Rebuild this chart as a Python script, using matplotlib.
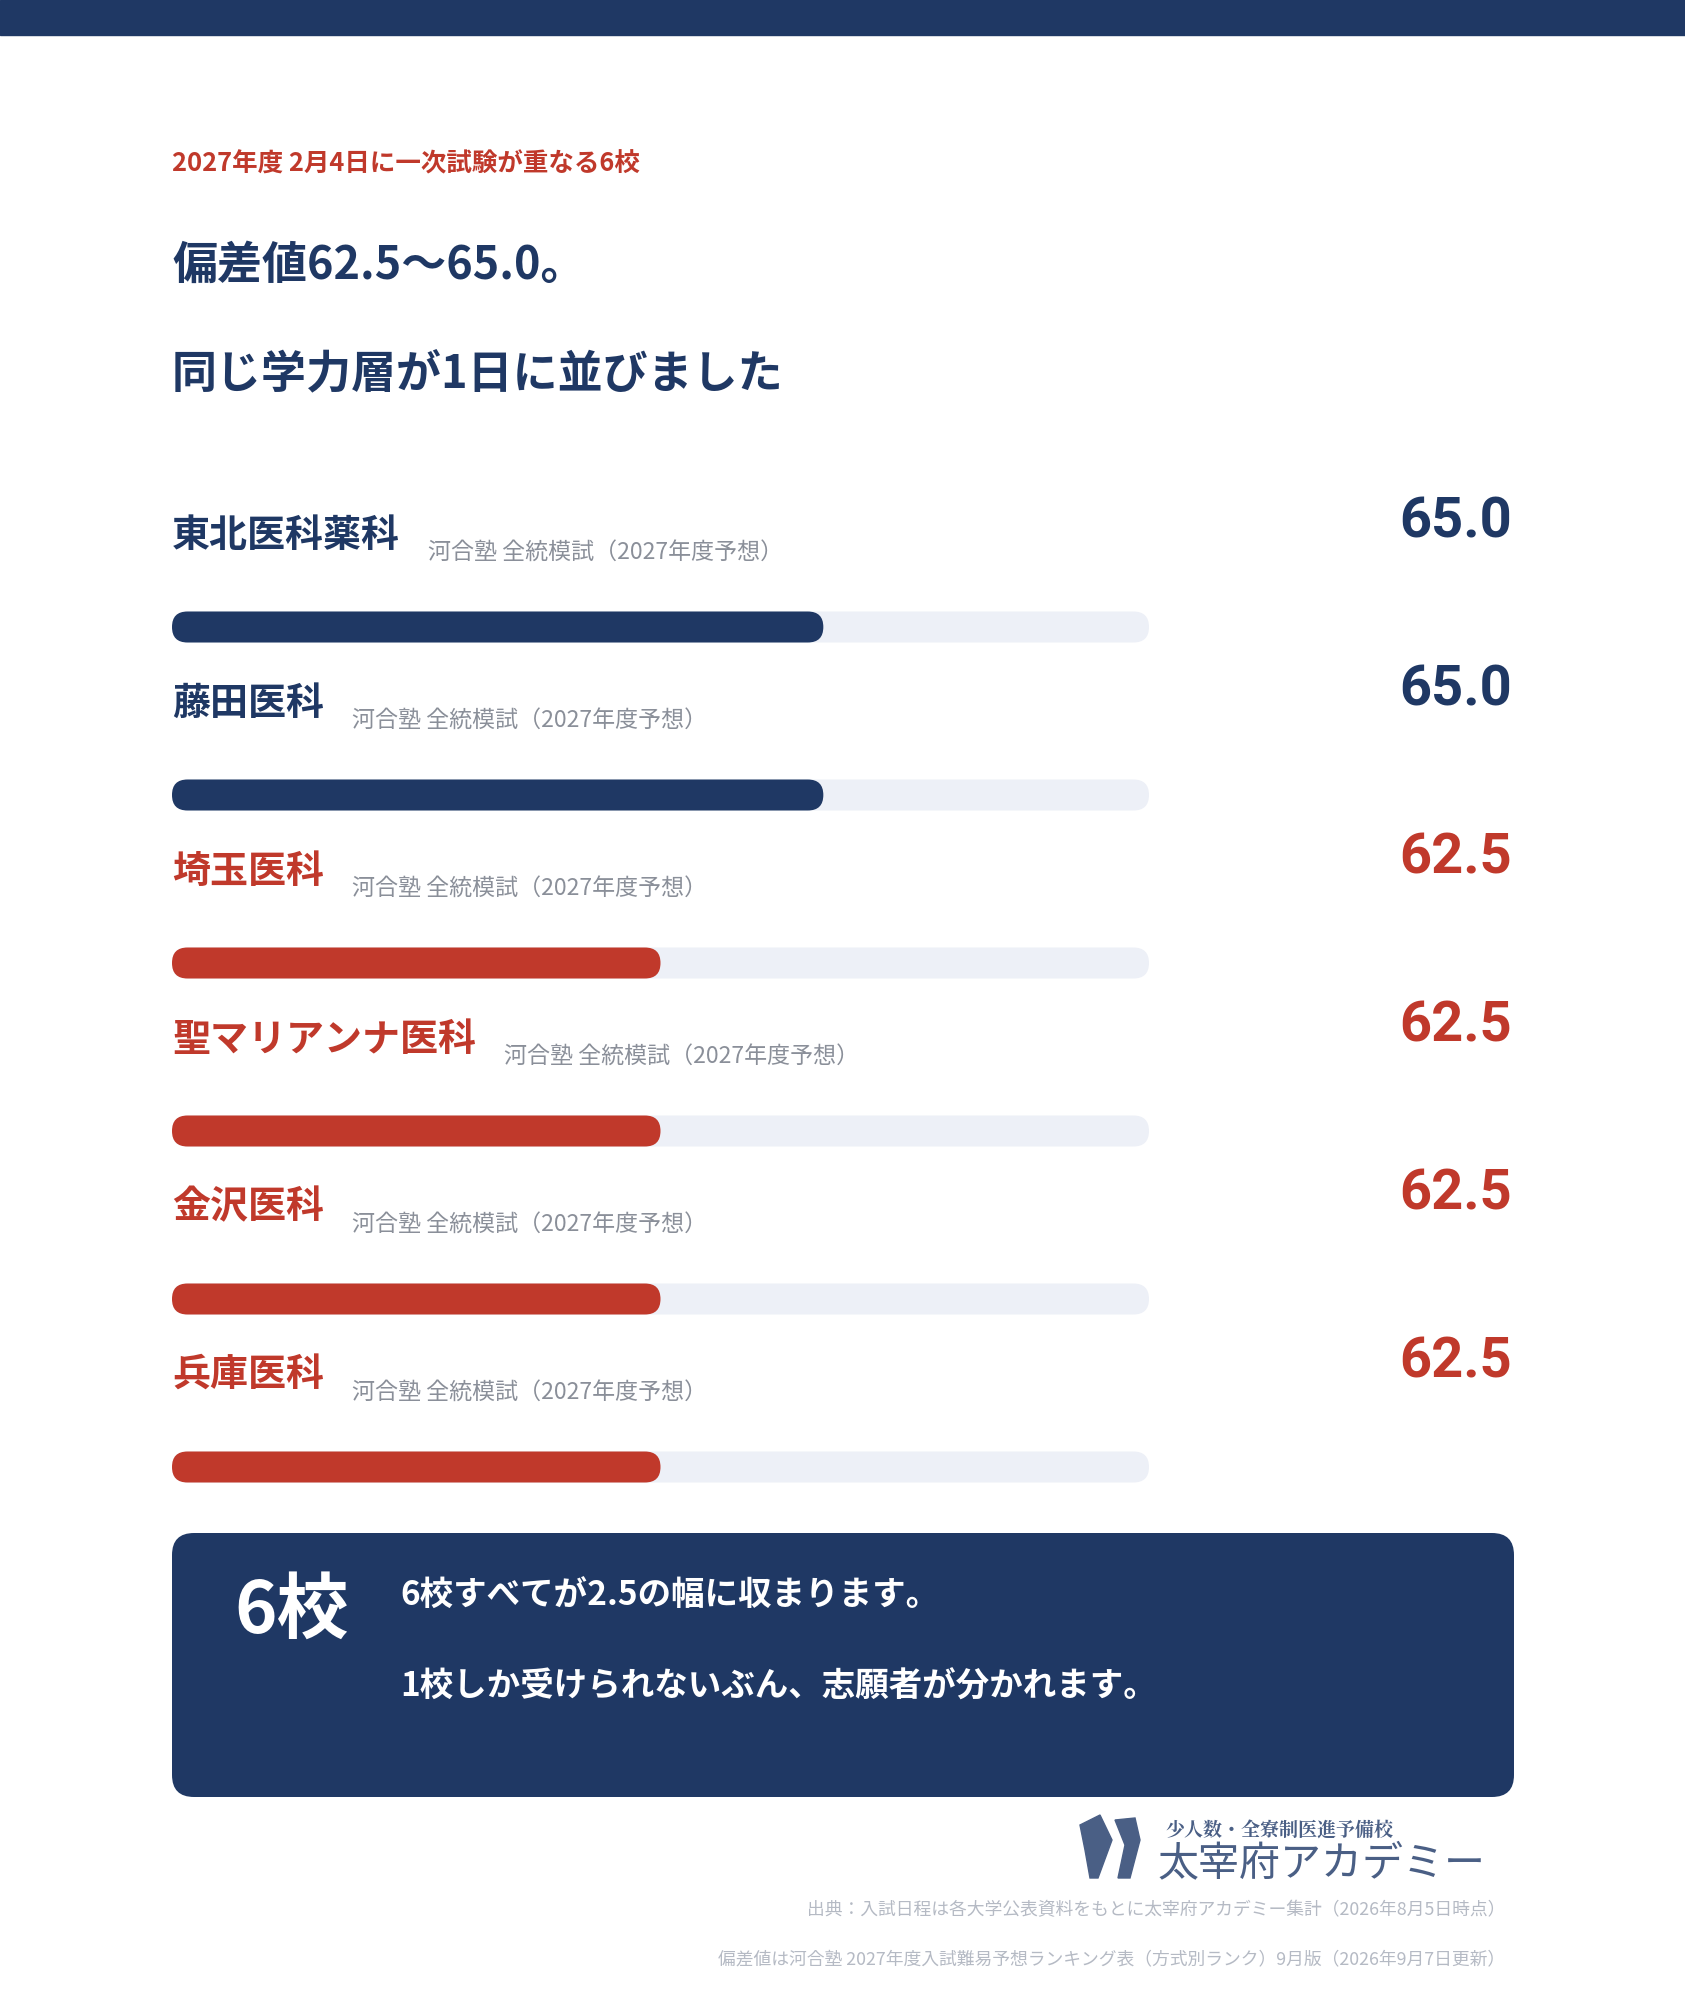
import matplotlib
matplotlib.use('Agg')
import matplotlib.pyplot as plt
from matplotlib.patches import FancyBboxPatch, Rectangle, Polygon

plt.rcParams['font.family'] = ['Noto Sans CJK JP', 'DejaVu Sans']

# データ
schools = ['東北医科薬科', '藤田医科', '埼玉医科', '聖マリアンナ医科', '金沢医科', '兵庫医科']
scores = [65.0, 65.0, 62.5, 62.5, 62.5, 62.5]
note = '河合塾 全統模試（2027年度予想）'
scale_min, scale_max = 55.0, 70.0

NAVY = '#1f3864'
RED = '#c0392b'
TRACK = '#edf0f7'
GRAY = '#8a8f99'

W, H = 1685, 2000
fig = plt.figure(figsize=(W / 100, H / 100), dpi=100)
ax = fig.add_axes([0, 0, 1, 1])
ax.set_xlim(0, W)
ax.set_ylim(H, 0)
ax.axis('off')


def px(s):
    # tamaño en píxeles -> puntos
    return s * 0.72


ax.add_patch(Rectangle((0, 0), W, 35, color=NAVY))

ax.text(172, 164, '2027年度 2月4日に一次試験が重なる6校', color=RED,
        fontsize=px(25.5), fontweight='bold', va='center')
ax.text(172, 266, '偏差値62.5〜65.0。', color=NAVY,
        fontsize=px(45), fontweight='bold', va='center')
ax.text(172, 374, '同じ学力層が1日に並びました', color=NAVY,
        fontsize=px(45), fontweight='bold', va='center')

bar_x0, bar_w, bar_h = 172, 977, 31
fig.canvas.draw()
renderer = fig.canvas.get_renderer()

for i, (name, v) in enumerate(zip(schools, scores)):
    y = 535 + i * 168
    col = NAVY if v >= 65 else RED
    t = ax.text(172, y, name, color=col, fontsize=px(38), fontweight='bold', va='center')
    bb = t.get_window_extent(renderer)
    ax.text(bb.x1 + 28, y + 17, note, color=GRAY, fontsize=px(23), va='center')
    ax.text(1512, y - 12, f'{v:.1f}', color=col, fontsize=px(56), fontweight='bold',
            ha='right', va='center', family=['Roboto', 'DejaVu Sans'])
    by = y + 92
    ax.add_patch(FancyBboxPatch((bar_x0, by - bar_h / 2), bar_w, bar_h,
                                boxstyle=f'round,pad=0,rounding_size={bar_h / 2}',
                                fc=TRACK, ec='none'))
    fw = (v - scale_min) / (scale_max - scale_min) * bar_w
    ax.add_patch(FancyBboxPatch((bar_x0, by - bar_h / 2), fw, bar_h,
                                boxstyle=f'round,pad=0,rounding_size={bar_h / 2}',
                                fc=col, ec='none'))

# cuadro resumen
ax.add_patch(FancyBboxPatch((172, 1533), 1342, 264,
                            boxstyle='round,pad=0,rounding_size=22', fc=NAVY, ec='none'))
ax.text(234, 1612, '6校', color='white', fontsize=px(72), fontweight='bold', va='center')
ax.text(400, 1596, '6校すべてが2.5の幅に収まります。', color='white',
        fontsize=px(33.5), fontweight='bold', va='center')
ax.text(400, 1687, '1校しか受けられないぶん、志願者が分かれます。', color='white',
        fontsize=px(33.5), fontweight='bold', va='center')

# logo
LOGO = '#4a5f85'
ax.add_patch(Polygon([(1080, 1825), (1100, 1815), (1112, 1840), (1098, 1878),
                      (1090, 1878), (1085, 1850)], color=LOGO))
ax.add_patch(Polygon([(1115, 1820), (1135, 1818), (1140, 1840), (1130, 1878),
                      (1118, 1878), (1125, 1845)], color=LOGO))
ax.text(1165, 1831, '少人数・全寮制医進予備校', color=LOGO, fontsize=px(19),
        fontweight='bold', va='center', family=['Noto Serif CJK JP', 'Noto Sans CJK JP'])
ax.text(1158, 1864, '太宰府アカデミー', color=LOGO, fontsize=px(41),
        va='center')

ax.text(1505, 1910, '出典：入試日程は各大学公表資料をもとに太宰府アカデミー集計（2026年8月5日時点）',
        color='#b5bac4', fontsize=px(17.8), ha='right', va='center')
ax.text(1505, 1959, '偏差値は河合塾 2027年度入試難易予想ランキング表（方式別ランク）9月版（2026年9月7日更新）',
        color='#b5bac4', fontsize=px(17.8), ha='right', va='center')

fig.savefig('out.png', dpi=100, facecolor='white')
